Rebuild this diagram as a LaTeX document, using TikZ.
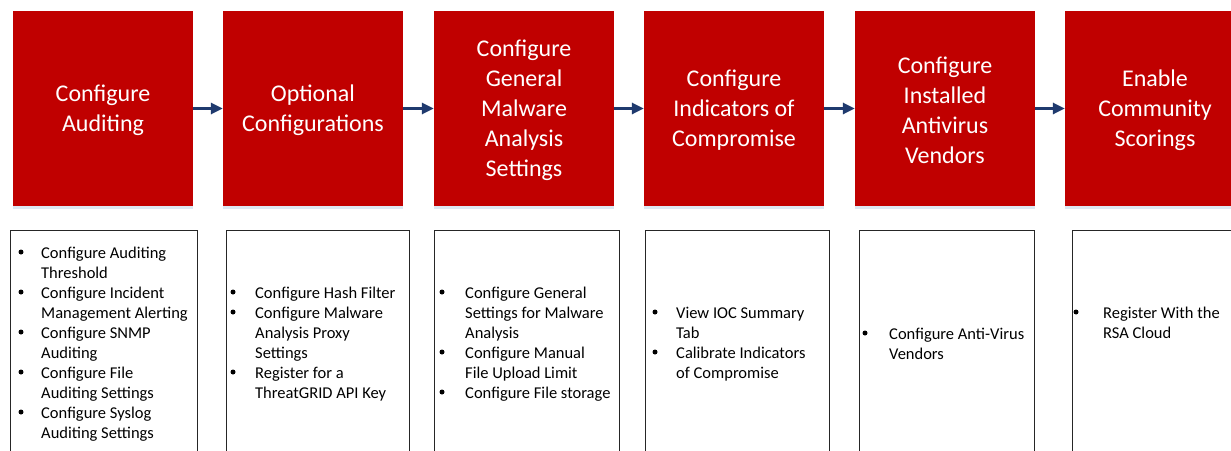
\documentclass[tikz,border=0pt]{standalone}
\usepackage{fontspec}
\setmainfont{Carlito}
\usetikzlibrary{arrows.meta}
\definecolor{rsared}{HTML}{C00000}
\definecolor{navy}{HTML}{1F3A6E}
\definecolor{shadeblue}{HTML}{DDE8F3}
\tikzset{
  redbox/.style={fill=rsared, minimum width=180pt, minimum height=195pt, inner sep=0pt},
  redtext/.style={text=white, align=center, inner sep=0pt, font=\fontsize{24}{30}\selectfont},
  listbox/.style={draw=black!85, line width=1pt, fill=white, anchor=north west, inner sep=0pt},
  itm/.style={anchor=base west, inner sep=0pt, font=\fontsize{16.5}{20}\selectfont},
  bul/.style={circle, fill=black, inner sep=0pt, minimum size=5pt},
  arr/.style={draw=navy, line width=3pt, -{Triangle[length=12pt,width=11pt]}}
}
\newcommand\itemsof[4]{%
  \foreach \y/\b/\t [count=\i] in {#4} {%
    \node[itm] (#1t\i) at (#3,\y) {\t};
    \ifnum\b=1 \node[bul] (#1u\i) at (#2,\y-6) {};\fi
  }%
}
\newcommand\redstep[3]{%
  \node[redbox] (#1) at (#2,108.5) {};
  \node[redtext] (#1txt) at ([yshift=-2pt]#1.center) {#3};
  \fill[shadeblue] (#1.south west) rectangle ([yshift=-3pt]#1.south east);
}
\begin{document}
\begin{tikzpicture}[x=1pt,y=-1pt]
\useasboundingbox (0,0) rectangle (1231,450);
\clip (0,0) rectangle (1231,450);
\fill[white] (0,0) rectangle (1231,450);

% top red boxes
\redstep{r1}{103}{Configure\\Auditing}
\redstep{r2}{313}{Optional\\Configurations}
\redstep{r3}{524}{Configure\\General\\Malware\\Analysis\\Settings}
\redstep{r4}{734}{Configure\\Indicators of\\Compromise}
\redstep{r5}{945}{Configure\\Installed\\Antivirus\\Vendors}
\redstep{r6}{1155}{Enable\\Community\\Scorings}

% arrows
\draw[arr] (r1.east) -- (r2.west);
\draw[arr] (r2.east) -- (r3.west);
\draw[arr] (r3.east) -- (r4.west);
\draw[arr] (r4.east) -- (r5.west);
\draw[arr] (r5.east) -- (r6.west);

% bottom list boxes
\node[listbox, minimum width=187pt, minimum height=240pt] (b1) at (10,230) {};
\node[listbox, minimum width=183pt, minimum height=240pt] (b2) at (226,230) {};
\node[listbox, minimum width=185pt, minimum height=240pt] (b3) at (434,230) {};
\node[listbox, minimum width=184pt, minimum height=240pt] (b4) at (645,230) {};
\node[listbox, minimum width=175pt, minimum height=240pt] (b5) at (859,230) {};
\node[listbox, minimum width=180pt, minimum height=240pt] (b6) at (1072,230) {};

\itemsof{a}{21}{41}{258/1/Configure Auditing, 278/0/Threshold, 298/1/Configure Incident,
  318/0/Management Alerting, 338/1/Configure SNMP, 358/0/Auditing, 378/1/Configure File,
  398/0/Auditing Settings, 418/1/Configure Syslog, 438/0/Auditing Settings}
\itemsof{b}{233}{255}{298/1/Configure Hash Filter, 318/1/Configure Malware, 338/0/Analysis Proxy,
  358/0/Settings, 378/1/Register for a, 398/0/ThreatGRID API Key}
\itemsof{c}{442}{465}{298/1/Configure General, 318/0/Settings for Malware, 338/0/Analysis,
  358/1/Configure Manual, 378/0/File Upload Limit, 398/1/Configure File storage}
\itemsof{d}{655}{676}{318/1/View IOC Summary, 338/0/Tab, 358/1/Calibrate Indicators, 378/0/of Compromise}
\itemsof{e}{865}{889}{339/1/Configure Anti-Virus, 359/0/Vendors}
\itemsof{f}{1076}{1103}{318/1/Register With the, 338/0/RSA Cloud}
\end{tikzpicture}
\end{document}
